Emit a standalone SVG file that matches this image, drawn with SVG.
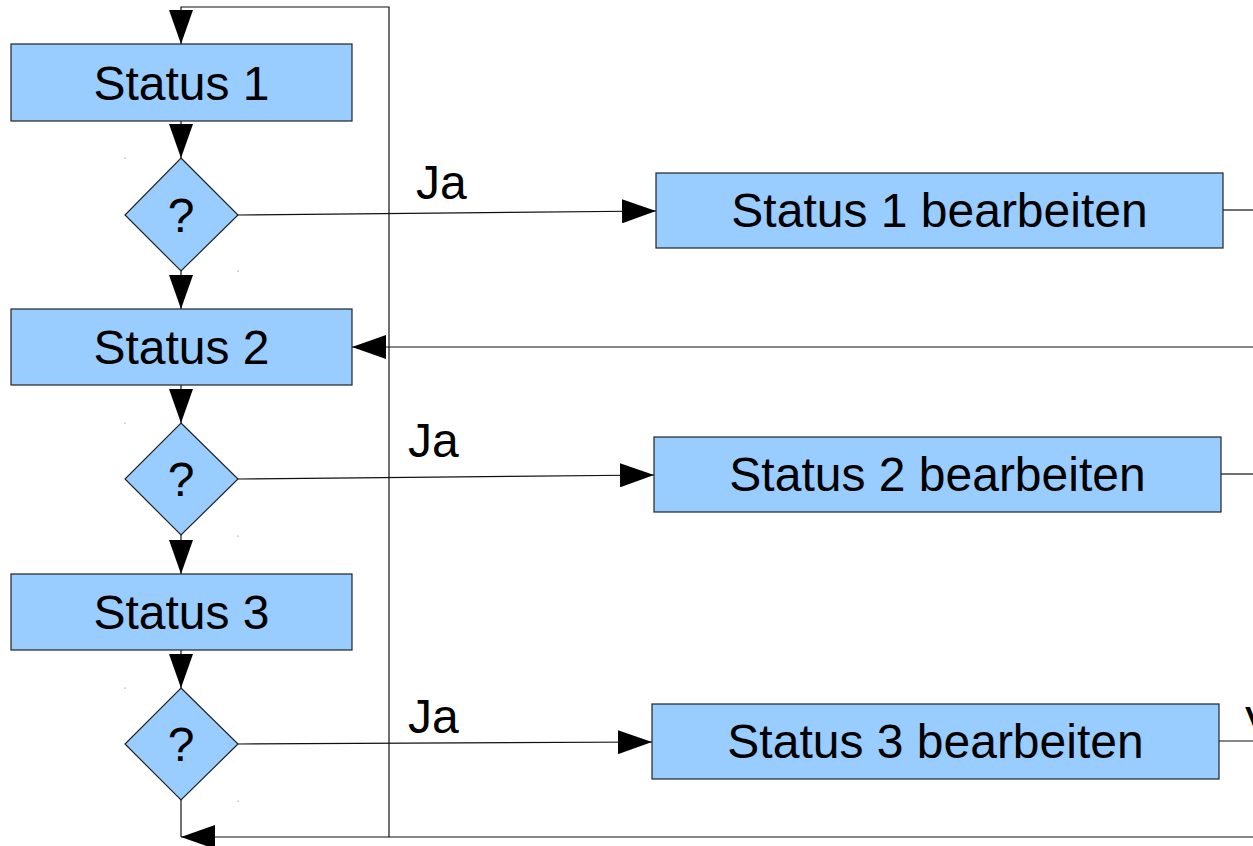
<svg xmlns="http://www.w3.org/2000/svg" width="1253" height="846" viewBox="0 0 1253 846">
  <style>
    .box { fill: #99ccff; stroke: #222; stroke-width: 1.2; }
    .lbl { font-family: "Liberation Sans", Arial, sans-serif; font-size: 48px; fill: #000; }
    .mid { text-anchor: middle; }
    .ln { fill: none; stroke: #111; stroke-width: 1.2; }
    .dot { fill: #666; }
  </style>
  <defs>
    <marker id="ah" viewBox="0 0 34 24" refX="34" refY="12" markerWidth="34" markerHeight="24" markerUnits="userSpaceOnUse" orient="auto">
      <path d="M0,0 L34,12 L0,24 Z" fill="#000"/>
    </marker>
  </defs>

  <!-- connectors -->
  <g id="connectors">
    <!-- loop back to top -->
    <polyline class="ln" points="389,837 389,7 181,7 181,44" marker-end="url(#ah)"/>
    <line class="ln" x1="181" y1="121" x2="181" y2="158" marker-end="url(#ah)"/>
    <line class="ln" x1="181" y1="271" x2="181" y2="309" marker-end="url(#ah)"/>
    <line class="ln" x1="181" y1="385" x2="181" y2="423" marker-end="url(#ah)"/>
    <line class="ln" x1="181" y1="535" x2="181" y2="574" marker-end="url(#ah)"/>
    <line class="ln" x1="181" y1="650" x2="181" y2="688" marker-end="url(#ah)"/>
    <!-- yes branches -->
    <line class="ln" x1="238" y1="215" x2="656" y2="211" marker-end="url(#ah)"/>
    <line class="ln" x1="238" y1="479" x2="654" y2="475" marker-end="url(#ah)"/>
    <line class="ln" x1="238" y1="744" x2="652" y2="742" marker-end="url(#ah)"/>
    <!-- exits to the right -->
    <line class="ln" x1="1223" y1="210" x2="1253" y2="210"/>
    <line class="ln" x1="1221" y1="474" x2="1253" y2="474"/>
    <line class="ln" x1="1219" y1="741" x2="1253" y2="741"/>
    <!-- return into Status 2 -->
    <line class="ln" x1="1253" y1="347" x2="352" y2="347" marker-end="url(#ah)"/>
    <!-- bottom return -->
    <line class="ln" x1="181" y1="800" x2="181" y2="837"/>
    <line class="ln" x1="1253" y1="837" x2="181" y2="837" marker-end="url(#ah)"/>
  </g>

  <g id="status1">
    <rect class="box" x="11" y="44" width="341" height="77"/>
    <text class="lbl mid" x="181.5" y="100">Status 1</text>
  </g>
  <g id="decision1">
    <polygon class="box" points="181,158 238,215 181,271 125,215"/>
    <text class="lbl mid" x="181" y="232">?</text>
  </g>
  <g id="status2">
    <rect class="box" x="11" y="309" width="341" height="76"/>
    <text class="lbl mid" x="181.5" y="364">Status 2</text>
  </g>
  <g id="decision2">
    <polygon class="box" points="181,423 238,479 181,535 125,479"/>
    <text class="lbl mid" x="181" y="496">?</text>
  </g>
  <g id="status3">
    <rect class="box" x="11" y="574" width="341" height="76"/>
    <text class="lbl mid" x="181.5" y="629">Status 3</text>
  </g>
  <g id="decision3">
    <polygon class="box" points="181,688 238,744 181,800 125,744"/>
    <text class="lbl mid" x="181" y="761">?</text>
  </g>

  <g id="work1">
    <rect class="box" x="656" y="173" width="567" height="75"/>
    <text class="lbl mid" x="939.5" y="227">Status 1 bearbeiten</text>
  </g>
  <g id="work2">
    <rect class="box" x="654" y="437" width="567" height="75"/>
    <text class="lbl mid" x="937.5" y="491">Status 2 bearbeiten</text>
  </g>
  <g id="work3">
    <rect class="box" x="652" y="704" width="567" height="75"/>
    <text class="lbl mid" x="935.5" y="758">Status 3 bearbeiten</text>
  </g>

  <g id="labels">
    <text class="lbl" x="416" y="199">Ja</text>
    <text class="lbl" x="408" y="457">Ja</text>
    <text class="lbl" x="408" y="733">Ja</text>
    <text class="lbl" x="1245" y="740">V</text>
  </g>

  <g id="marks">
    <circle class="dot" cx="125" cy="158" r="0.6"/>
    <circle class="dot" cx="238" cy="271" r="0.6"/>
    <circle class="dot" cx="125" cy="423" r="0.6"/>
    <circle class="dot" cx="238" cy="536" r="0.6"/>
    <circle class="dot" cx="125" cy="688" r="0.6"/>
    <circle class="dot" cx="238" cy="801" r="0.6"/>
  </g>
</svg>
